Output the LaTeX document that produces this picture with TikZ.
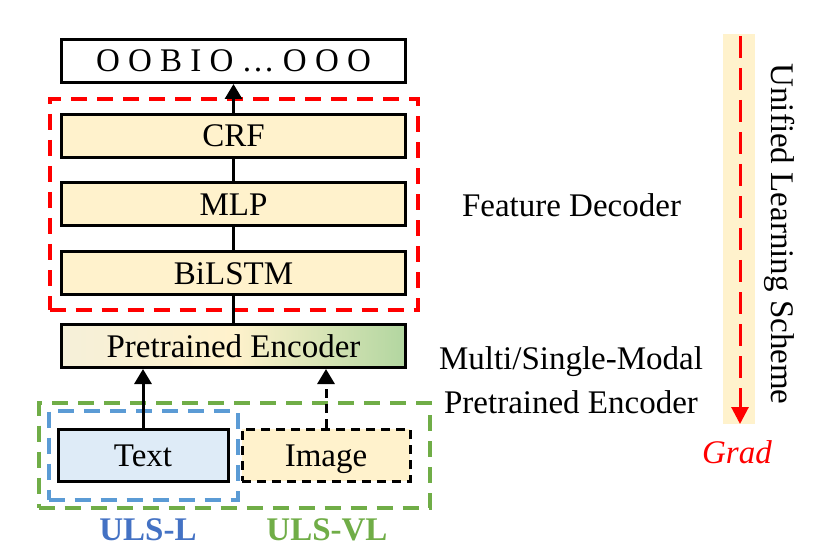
\documentclass[tikz,border=0pt]{standalone}
\usepackage{fontspec}
\setmainfont{Liberation Serif}
\usetikzlibrary{positioning,fit}
\usetikzlibrary{arrows.meta}
\definecolor{boxyel}{RGB}{255,242,204}
\definecolor{boxblue}{RGB}{222,235,247}
\definecolor{encgreen}{RGB}{178,214,160}
\definecolor{grpgreen}{RGB}{112,173,71}
\definecolor{grpblue}{RGB}{91,155,213}
\definecolor{lblblue}{RGB}{68,114,196}
\tikzstyle{every layer} = []
\tikzstyle{layer} = [draw, line width=3pt, minimum width=344pt, minimum height=43pt, inner sep=0pt, font=\fontsize{33}{38}\selectfont, text height=22pt, text depth=0pt, every layer]
\tikzstyle{inbox} = [layer, minimum width=170pt, minimum height=52pt]
\tikzstyle{grp} = [draw, dash pattern=on 16pt off 10pt, line width=4pt, inner sep=0pt]
\tikzstyle{link} = [line width=3pt, -{Triangle[length=15pt,width=17pt]}]

\begin{document}
\begin{tikzpicture}[x=1pt, y=1pt, node distance=22pt]
        \useasboundingbox (0,0) rectangle (831,-559);
        \tikzstyle{every layer} = [fill=boxyel]

        \node[layer, left color=boxyel!70!boxblue, right color=encgreen, middle color=boxyel] (enc) at (233.5,-346) {Pretrained Encoder};
        \node[layer] (bilstm) [above=27pt of enc] {BiLSTM};
        \node[layer] (mlp) [above=23pt of bilstm] {MLP};
        \node[layer] (crf) [above=of mlp] {CRF};
        \node[layer, fill=white] (out) [above=29pt of crf] {O O B I O \dots\ O O O};

        \node[inbox, fill=boxblue] (text) at (143,-455) {Text};
        \node[inbox, fill=boxyel, dashed, dash pattern=on 9pt off 6pt, minimum width=168pt] (image) at (326,-455) {Image};

        % groups
        \node[grp, draw=red, fit=(crf) (bilstm), inner xsep=10.5pt, inner ysep=14pt] (dec) {};
        \node[grp, draw=grpblue, fit=(text), inner xsep=8pt, inner ysep=17pt] (uls-l) {};
        \node[grp, draw=grpgreen, fit=(text) (image), inner xsep=18pt, inner ysep=25pt] (uls-vl) {};

        \draw[line width=3pt] (bilstm) -- (mlp);
        \draw[line width=3pt] (mlp) -- (crf);
        \draw[line width=3pt] (enc) -- (bilstm);
        \draw[link] (crf) -- (out);
        \draw[link] (text) -- (text |- enc.south);
        \draw[link, dash pattern=on 9pt off 6pt] (image) -- (image |- enc.south);

        \node[font=\bfseries\fontsize{33}{38}\selectfont, text=lblblue] (lbl-l) at (148,-530) {ULS-L};
        \node[font=\bfseries\fontsize{33}{38}\selectfont, text=grpgreen] (lbl-vl) at (327,-530) {ULS-VL};

        \node[font=\fontsize{33}{38}\selectfont] (fdec) at (571.5,-205) {Feature Decoder};
        \node[font=\fontsize{33}{38}\selectfont, align=center] (penc) at (571,-380) {Multi/Single-Modal\\[6pt]Pretrained Encoder};

        % gradient strip
        \fill[boxyel] (723,-34) rectangle (755,-424);
        \coordinate (gtop) at (740,-36);
        \coordinate (gbot) at (740,-424);
        \draw[red, line width=3pt, dash pattern=on 22pt off 10pt, -{Triangle[length=17pt,width=17pt]}] (gtop) -- (gbot);
        \node[font=\itshape\fontsize{33}{38}\selectfont, text=red] (grad) at (737,-452) {Grad};
        \node[font=\fontsize{33}{38}\selectfont, rotate=-90] (uls) at (780,-234) {Unified Learning Scheme};
    \end{tikzpicture}
\end{document}
